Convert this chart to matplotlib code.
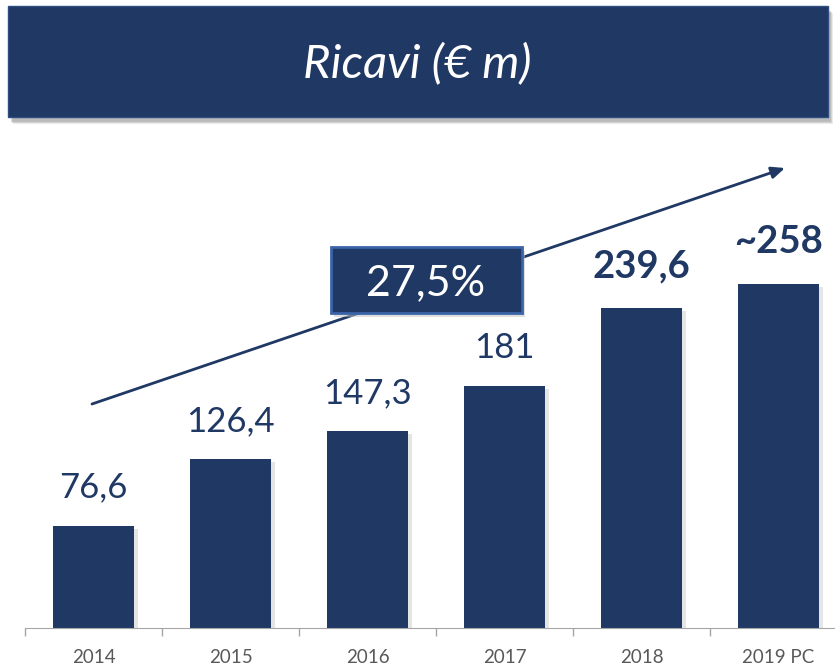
import matplotlib.pyplot as plt
import matplotlib.patheffects as pe
from matplotlib.patches import Rectangle

# data
years = ["2014", "2015", "2016", "2017", "2018", "2019 PC"]
ricavi = [76.6, 126.4, 147.3, 181, 239.6, 258]
labels = ["76,6", "126,4", "147,3", "181", "239,6", "~258"]
bold = [False, False, False, False, True, True]
cagr = "27,5%"
title = "Ricavi (€ m)"

navy = "#1f3864"
W, H = 835, 671

plt.rcParams['font.family'] = ['Lato', 'DejaVu Sans']

fig = plt.figure(figsize=(W / 100, H / 100), dpi=100)


def px(x0, y0, x1, y1):
    # pixel box (top-left origin) -> figure fraction rect
    return (x0 / W, 1 - y1 / H), (x1 - x0) / W, (y1 - y0) / H


# title banner with soft shadow
for i, a in enumerate([0.15, 0.2, 0.3]):
    d = 3 - i
    xy, w, h = px(8 + 2 + d, 6 + 4 + d, 828 + 2 + d, 117 + 4 + d)
    fig.patches.append(Rectangle(xy, w, h, transform=fig.transFigure,
                                 facecolor="#7f7f7f", alpha=a, edgecolor="none"))
xy, w, h = px(8, 6, 828, 117)
fig.patches.append(Rectangle(xy, w, h, transform=fig.transFigure,
                             facecolor=navy, edgecolor="#2f4f80", lw=1))
fig.text(417 / W, 1 - 64 / H, title, color="white", fontsize=34,
         style="italic", ha="center", va="center")

# bar chart
ax = fig.add_axes([25 / W, 1 - 628 / H, (W - 25) / W, (628 - 161) / H])
x = list(range(len(years)))
bars = ax.bar(x, ricavi, width=0.585, color=navy, zorder=2)
for b in bars:
    b.set_path_effects([pe.SimplePatchShadow(offset=(3, -2), shadow_rgbFace="#999999", alpha=0.25),
                        pe.Normal()])

for xi, v, lab, bd in zip(x, ricavi, labels, bold):
    ax.annotate(lab, (xi, v), xytext=(0, 16 if not bd else 18), textcoords="offset points",
                ha="center", va="bottom", color=navy, fontsize=25 if not bd else 27.5,
                fontweight="bold" if bd else "normal")

ax.set_xlim(-0.5, -0.5 + (W - 25) / 137)
ax.set_ylim(0, 350)
ax.set_yticks([])
ax.set_xticks(x)
ax.set_xticklabels(years, color="#595959", fontsize=13.5)
ax.set_xticks([i - 0.5 for i in range(len(years))], minor=True)
ax.tick_params(axis="x", which="major", length=0, pad=15)
ax.tick_params(axis="x", which="minor", length=6, color="#a6a6a6", width=1)
for s in ["left", "right", "top"]:
    ax.spines[s].set_visible(False)
ax.spines["bottom"].set_color("#a6a6a6")
ax.set_facecolor("none")

# growth arrow
ax.annotate("", xy=(785 / W, 1 - 168 / H), xytext=(92 / W, 1 - 404 / H),
            xycoords="figure fraction", textcoords="figure fraction",
            arrowprops=dict(arrowstyle="-|>,head_length=0.8,head_width=0.35",
                            color=navy, lw=2, shrinkA=0, shrinkB=0))

# CAGR box
xy, w, h = px(331 + 3, 247 + 4, 522 + 3, 313 + 4)
fig.patches.append(Rectangle(xy, w, h, transform=fig.transFigure,
                             facecolor="#bfbfbf", alpha=0.5, edgecolor="none", zorder=5))
xy, w, h = px(331, 247, 522, 313)
fig.patches.append(Rectangle(xy, w, h, transform=fig.transFigure,
                             facecolor=navy, edgecolor="#3a64a8", lw=2, zorder=6))
fig.text(426 / W, 1 - 283 / H, cagr, color="white", fontsize=31,
         ha="center", va="center", zorder=7)

fig.savefig("out.png", dpi=100)
